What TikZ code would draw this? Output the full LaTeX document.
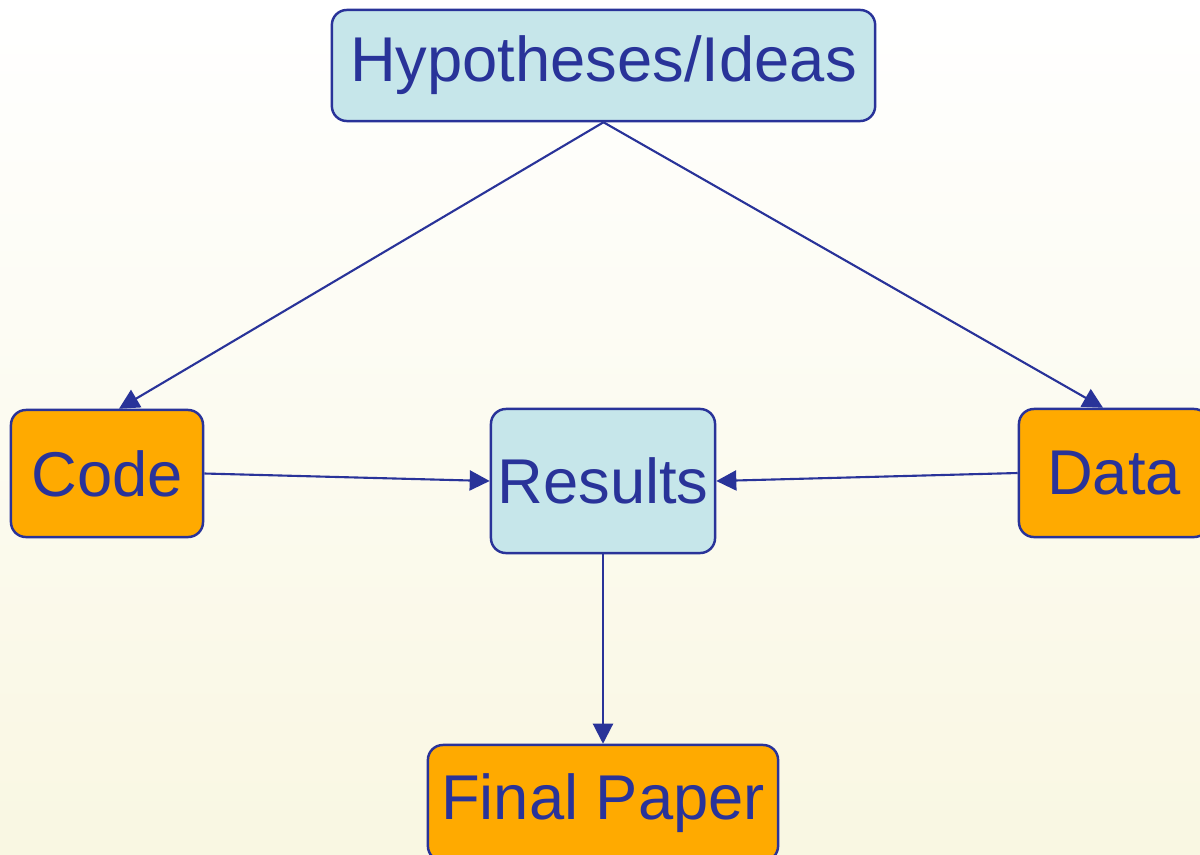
\documentclass[tikz,border=0pt]{standalone}
\usepackage{fontspec}
\setmainfont{Liberation Sans}
\usetikzlibrary{arrows.meta,calc}

\definecolor{inkblue}{RGB}{41,51,153}
\definecolor{boxorange}{RGB}{255,170,0}
\definecolor{boxblue}{RGB}{198,230,234}
\definecolor{paleyellow}{RGB}{249,247,226}

\begin{document}
\begin{tikzpicture}[x=0.01cm,y=-0.01cm,
  box/.style={draw=inkblue,line width=0.7pt,rounded corners=0.15cm,inner sep=0pt,
    text=inkblue,font=\fontsize{18}{22}\selectfont},
  ideabox/.style={box,fill=boxblue},
  workbox/.style={box,fill=boxorange},
  flow/.style={draw=inkblue,line width=0.6pt,-{Triangle[length=0.2cm,width=0.2cm]}}]
\useasboundingbox (0,0) rectangle (1200,854);
\clip (0,0) rectangle (1200,854);
\shade[top color=white,bottom color=paleyellow] (0,0) rectangle (1200,854);
% boxes
\node[ideabox,minimum width=5.43cm,minimum height=1.11cm] (ideas) at (603.5,65.5) {Hypotheses/Ideas};
\node[workbox,minimum width=1.92cm,minimum height=1.27cm] (code) at (107,473.5) {Code};
\node[ideabox,minimum width=2.24cm,minimum height=1.44cm] (results) at (603,481) {Results};
\node[workbox,minimum width=1.90cm,minimum height=1.28cm] (data) at (1114,473) {Data};
\node[workbox,minimum width=3.50cm,minimum height=1.16cm] (paper) at (603,803) {Final Paper};
% arrows
\draw[flow] (ideas.south) -- ($(code.north)+(12,0)$);
\draw[flow] (ideas.south) -- ($(data.north)+(-11,0)$);
\draw[flow] (code.east) -- (results.west);
\draw[flow] (data.west) -- (results.east);
\draw[flow] (results.south) -- (paper.north);
\end{tikzpicture}
\end{document}
